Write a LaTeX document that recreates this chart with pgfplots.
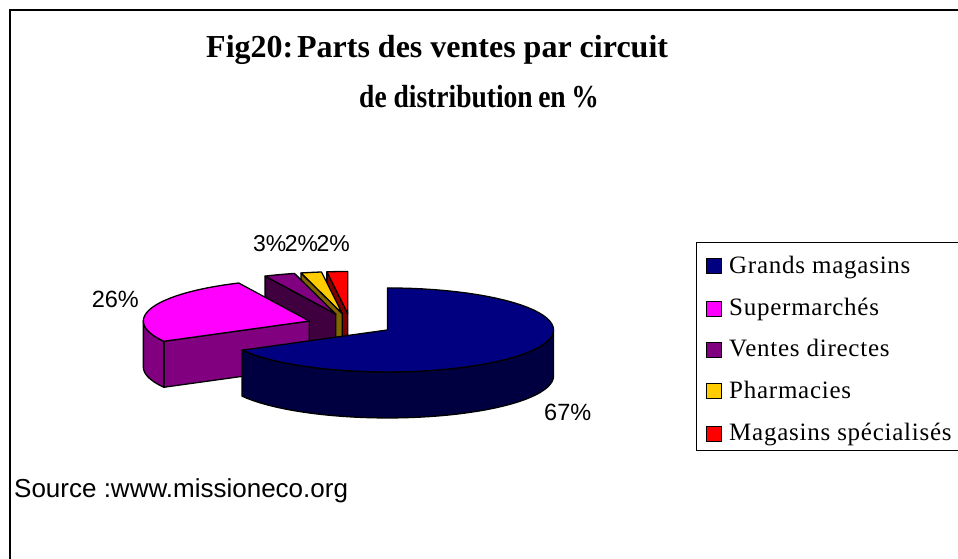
\documentclass[border=0pt]{standalone}
\usepackage{pgfplots}
\pgfplotsset{compat=1.18}
\usepackage{pgfplotstable}
\usepackage{fontspec}
\setmainfont{Liberation Serif}
\newfontfamily\arial{Liberation Sans}
\newfontfamily\legfont[LetterSpace=3]{Liberation Serif}

\definecolor{cAt}{HTML}{000080}\definecolor{cAs}{HTML}{000040}
\definecolor{cBt}{HTML}{FF00FF}\definecolor{cBs}{HTML}{800080}
\definecolor{cCt}{HTML}{800080}\definecolor{cCs}{HTML}{400040}
\definecolor{cDt}{HTML}{FFCC00}\definecolor{cDs}{HTML}{806600}
\definecolor{cEt}{HTML}{FF0000}\definecolor{cEs}{HTML}{800000}

\pgfplotstableread{
idx value
0 67
1 26
2 3
3 2
4 2
}\pietable

\pgfplotstablegetelem{0}{value}\of\pietable\pgfmathsetmacro\vA{\pgfplotsretval}
\pgfplotstablegetelem{1}{value}\of\pietable\pgfmathsetmacro\vB{\pgfplotsretval}
\pgfplotstablegetelem{2}{value}\of\pietable\pgfmathsetmacro\vC{\pgfplotsretval}
\pgfplotstablegetelem{3}{value}\of\pietable\pgfmathsetmacro\vD{\pgfplotsretval}
\pgfplotstablegetelem{4}{value}\of\pietable\pgfmathsetmacro\vE{\pgfplotsretval}
\pgfmathsetmacro\aA{90}
\pgfmathsetmacro\aB{\aA-3.6*\vA}
\pgfmathsetmacro\aC{\aB-3.6*\vB}
\pgfmathsetmacro\aD{\aC-3.6*\vC}
\pgfmathsetmacro\aE{\aD-3.6*\vD}
\pgfmathsetmacro\aF{\aE-3.6*\vE}

% geometry (pixel-like units)
\def\Cx{350.4}\def\Cy{234.6}\def\Rx{166}\def\Ry{42}\def\H{46}\def\K{0.26}

\newcommand\setapex[2]{%
  \pgfmathsetmacro\lo{#1}\pgfmathsetmacro\hi{#2}%
  \pgfmathsetmacro\md{(\lo+\hi)/2}%
  \pgfmathsetmacro\ax{\Cx+\K*\Rx*cos(\md)}%
  \pgfmathsetmacro\ay{\Cy+\K*\Ry*sin(\md)}}

\pgfplotsset{pieline/.style={draw=black, line width=1.3pt, line join=round}}

\newcommand\topface[1]{%
  \addplot[fill=#1, pieline, samples at={0,...,60}, variable=\t]
  ({\ax+(\t>0.5)*\Rx*cos((\lo)+((\hi)-(\lo))*(\t-1)/59)},
   {\ay+(\t>0.5)*\Ry*sin((\lo)+((\hi)-(\lo))*(\t-1)/59)}) -- cycle;}

\newcommand\hiface[1]{%
  \addplot[fill=#1, pieline, samples at={0,1,2,3}, variable=\t]
  ({\ax+(\t>0.5)*(\t<2.5)*\Rx*cos(\hi)},
   {\ay+(\t>0.5)*(\t<2.5)*\Ry*sin(\hi)-(\t>1.5)*\H}) -- cycle;}

\newcommand\wall[3]{%
  \pgfmathsetmacro\wa{#1}\pgfmathsetmacro\wb{#2}%
  \addplot[fill=#3, pieline, samples at={0,...,81}, variable=\t]
  ({\ax+\Rx*cos(ifthenelse(\t<40.5,(\wa)+((\wb)-(\wa))*\t/40,(\wb)-((\wb)-(\wa))*(\t-41)/40))},
   {\ay+\Ry*sin(ifthenelse(\t<40.5,(\wa)+((\wb)-(\wa))*\t/40,(\wb)-((\wb)-(\wa))*(\t-41)/40))-(\t>40.5)*\H}) -- cycle;}

\begin{document}
\begin{tikzpicture}
\begin{axis}[x=1pt, y=1pt, xmin=0, xmax=958, ymin=0, ymax=559,
  hide axis, clip=false, scale only axis]
% frame
\draw[line width=1.3pt] (axis cs:10,0) -- (axis cs:10,549) -- (axis cs:958,549);
% title
\node[anchor=base west, inner sep=0pt, font=\fontsize{32}{32}\selectfont\bfseries] at (axis cs:206,501) {Fig20:\hspace{0.12em}Parts des ventes par circuit};
\node[anchor=base west, inner sep=0pt, font=\fontsize{32}{32}\selectfont\bfseries] at (axis cs:359,451) {\scalebox{0.86}[1]{de distribution\hspace{0.2em}en\hspace{0.2em}\%}};

% pie: red, yellow, purple, pink, blue
\setapex{\aF}{\aE}\hiface{cEs}\topface{cEt}
\setapex{\aE}{\aD}\hiface{cDs}\topface{cDt}
\setapex{\aD}{\aC}\hiface{cCs}\topface{cCt}
\setapex{\aC}{\aB}\hiface{cBs}\wall{-180}{\aB}{cBs}\topface{cBt}
\setapex{\aB}{\aA}\wall{\aB}{0}{cAs}\topface{cAt}

% percentage labels
\node[anchor=base west, inner sep=0pt, font=\arial\fontsize{23.5}{24}\selectfont] at (axis cs:544,138) {67\%};
\node[anchor=base east, inner sep=0pt, font=\arial\fontsize{23.5}{24}\selectfont] at (axis cs:139,251) {26\%};
\node[anchor=base east, inner sep=0pt, font=\arial\fontsize{23}{24}\selectfont] at (axis cs:350,307) {3\%\kern-1.5pt 2\%\kern-1.5pt 2\%};

% legend
\draw[line width=1pt] (axis cs:958,316) -- (axis cs:696,316) -- (axis cs:696,108) -- (axis cs:958,108);
\foreach \yy/\cc/\tt in {292.5/cAt/Grands magasins, 250/cBt/Supermarchés, 209/cCt/Ventes directes, 167.5/cDt/Pharmacies, 125/cEt/Magasins spécialisés}{
  \edef\tmp{\noexpand\filldraw[fill=\cc, draw=black, line width=1pt] (axis cs:706,\yy-7.5) rectangle (axis cs:721,\yy+7.5);
  \noexpand\node[anchor=base west, inner sep=0pt, font=\noexpand\legfont\noexpand\fontsize{25}{25}\noexpand\selectfont] at (axis cs:729,\yy-7) {\tt};}\tmp
}

% source
\node[anchor=base west, inner sep=0pt, font=\arial\fontsize{26}{26}\selectfont] at (axis cs:14,61) {Source :www.missioneco.org};
\end{axis}
\pgfresetboundingbox
\path (current axis.south west) rectangle (current axis.north east);
\end{tikzpicture}
\end{document}
